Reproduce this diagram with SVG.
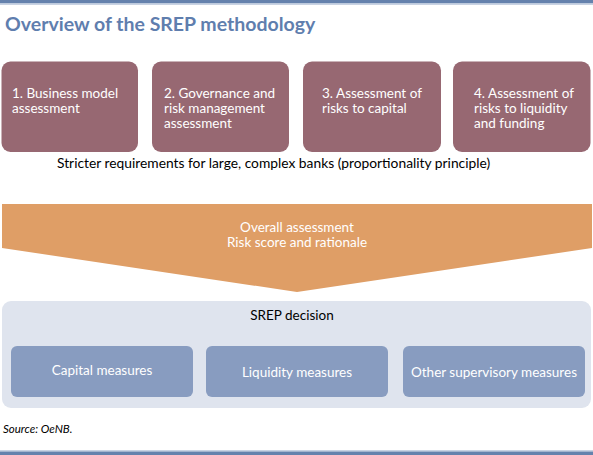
<svg xmlns="http://www.w3.org/2000/svg" width="593" height="455" viewBox="0 0 593 455">
<style>
text{font-family:Lato,"Liberation Sans",sans-serif;font-size:13.5px}
.title{font-size:19.5px;font-weight:bold;fill:#5f7eae}
.w{fill:#ffffff}
.k{fill:#000000}
.c{text-anchor:middle}
.step{fill:#976872}
.meas{fill:#889cc0}
</style>
<rect x="0" y="0" width="593" height="3.5" fill="#6582ad"/>
<rect x="0" y="3.5" width="593" height="1.5" fill="#c9d3e3"/>
<text class="title" x="5" y="31">Overview of the SREP methodology</text>
<g id="step1"><rect class="step" x="1.5" y="61.5" width="136.5" height="90.5" rx="9"/>
<text class="w" x="12"><tspan x="12" y="98">1. Business model</tspan><tspan x="12" y="113">assessment</tspan></text></g>
<g id="step2"><rect class="step" x="152" y="61.5" width="137" height="90.5" rx="9"/>
<text class="w"><tspan x="164" y="98">2. Governance and</tspan><tspan x="164" y="113">risk management</tspan><tspan x="164" y="128">assessment</tspan></text></g>
<g id="step3"><rect class="step" x="303" y="61.5" width="138" height="90.5" rx="9"/>
<text class="w"><tspan x="322" y="98">3. Assessment of</tspan><tspan x="322" y="113">risks to capital</tspan></text></g>
<g id="step4"><rect class="step" x="453" y="61.5" width="137.5" height="90.5" rx="9"/>
<text class="w"><tspan x="474" y="98">4. Assessment of</tspan><tspan x="474" y="113">risks to liquidity</tspan><tspan x="474" y="128">and funding</tspan></text></g>
<text class="k" x="57" y="168" style="font-size:13.8px">Stricter requirements for large, complex banks (proportionality principle)</text>
<g id="overall"><polygon points="2,204 592,204 592,248 297,292 2,248" fill="#df9e66"/>
<text class="w c"><tspan x="297" y="232">Overall assessment</tspan><tspan x="297" y="247">Risk score and rationale</tspan></text></g>
<g id="decision"><rect x="2" y="301" width="589" height="107" rx="9" fill="#dfe4ee"/>
<text class="k c" x="292" y="320">SREP decision</text></g>
<g id="capital"><rect class="meas" x="11" y="346" width="182" height="51" rx="6"/>
<text class="w c" x="102" y="375">Capital measures</text></g>
<g id="liquidity"><rect class="meas" x="206" y="346" width="182" height="51" rx="6"/>
<text class="w c" x="297" y="377">Liquidity measures</text></g>
<g id="other"><rect class="meas" x="403" y="346" width="182" height="51" rx="6"/>
<text class="w c" x="494" y="377">Other supervisory measures</text></g>
<g id="connectors"></g>
<text class="k" x="3" y="433" font-style="italic" style="font-size:11.5px">Source: OeNB.</text>
<rect x="0" y="450" width="593" height="1.5" fill="#c9d3e3"/>
<rect x="0" y="451.5" width="593" height="3.5" fill="#6582ad"/>
</svg>
